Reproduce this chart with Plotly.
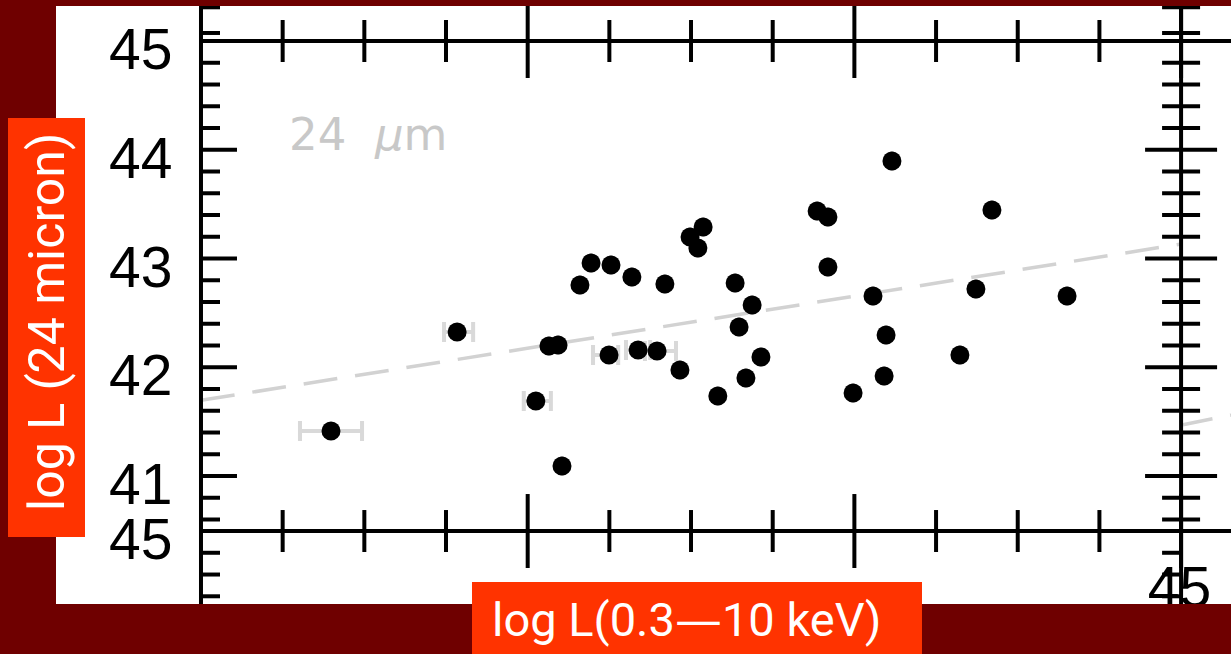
import plotly.graph_objects as go

# ---------------- data ----------------
lx = [41.398, 41.784, 42.025, 42.105, 42.065, 42.093, 42.249, 42.338, 42.396, 42.466,
      42.160, 42.194, 42.255, 42.319, 42.420, 42.497, 42.521, 42.537, 42.582, 42.635,
      42.647, 42.668, 42.687, 42.714, 42.886, 42.919, 42.919, 42.996, 43.057, 43.091,
      43.097, 43.115, 43.323, 43.372, 43.421, 43.651]
ly = [41.414, 42.324, 41.690, 41.092, 42.195, 42.205, 42.113, 42.159, 42.149, 41.975,
      42.756, 42.959, 42.940, 42.830, 42.766, 43.198, 43.097, 43.290, 41.736, 42.775,
      42.370, 41.901, 42.572, 42.094, 43.437, 43.382, 42.922, 41.763, 42.655, 41.920,
      42.297, 43.897, 42.113, 42.720, 43.446, 42.655]
err_plus = [0.095, 0.049, 0.046, 0, 0, 0, 0.028, 0.037, 0.058, 0,
            0, 0, 0, 0, 0, 0, 0, 0, 0, 0,
            0, 0, 0, 0, 0, 0, 0, 0, 0, 0,
            0, 0, 0, 0, 0, 0]
err_minus = [0.095, 0.040, 0.037, 0, 0, 0, 0.049, 0.037, 0.037, 0,
             0, 0, 0, 0, 0, 0, 0, 0, 0, 0,
             0, 0, 0, 0, 0, 0, 0, 0, 0, 0,
             0, 0, 0, 0, 0, 0]

fit_x = [41.0, 44.0]
fit_y = [41.696, 43.133]
side_fit_x = [44.006, 44.153]
side_fit_y = [41.472, 41.56]

y_major = [41, 42, 43, 44, 45]
y_major_text = ["41", "42", "43", "44", "45"]
y_minor = [40.6, 40.8, 41.2, 41.4, 41.6, 41.8, 42.2, 42.4, 42.6, 42.8,
           43.2, 43.4, 43.6, 43.8, 44.2, 44.4, 44.6, 44.8, 45.074, 45.31]
lower_axis_y = 40.494
lower_axis_text = "45"
lower_minor = [40.294, 40.094, 39.894]
x_major = [42, 43, 44]
x_minor = [41.25, 41.5, 41.75, 42.25, 42.5, 42.75, 43.25, 43.5, 43.75]
x_left, x_right = 41.0, 44.0
side_label = "45"

X_RANGE = [40.5562, 44.1528]
Y_RANGE = [39.823, 45.322]

DARK = "#6f0000"
ORANGE = "#ff3300"
LW = 4

fig = go.Figure()

# fit line (dashed, light grey)
fig.add_trace(go.Scatter(x=fit_x, y=fit_y, mode="lines", hoverinfo="skip",
                         line=dict(color="#d2d2d2", width=3.5, dash="34px,18px"),
                         showlegend=False))
fig.add_trace(go.Scatter(x=side_fit_x, y=side_fit_y, mode="lines", hoverinfo="skip",
                         line=dict(color="#d2d2d2", width=3.5, dash="30px,18px"),
                         showlegend=False))

# data points with x error bars
fig.add_trace(go.Scatter(
    x=lx, y=ly, mode="markers", showlegend=False,
    marker=dict(color="black", size=19, line=dict(width=0)),
    error_x=dict(type="data", symmetric=False, array=err_plus, arrayminus=err_minus,
                 color="#d9d9d9", thickness=4, width=10)))

# partially hidden label of neighbouring panel
fig.add_trace(go.Scatter(x=[43.995], y=[39.924], mode="text", text=[side_label],
                         textposition="middle center", cliponaxis=True,
                         textfont=dict(family="Liberation Sans", size=57, color="black"),
                         showlegend=False, hoverinfo="skip"))

shapes = []
def vline(x, y0, y1):
    shapes.append(dict(type="line", xref="x", yref="y", x0=x, x1=x, y0=y0, y1=y1,
                       line=dict(color="black", width=LW)))
def hline(y, x0, x1):
    shapes.append(dict(type="line", xref="x", yref="y", x0=x0, x1=x1, y0=y, y1=y,
                       line=dict(color="black", width=LW)))
def xtick(x, yanchor, half):
    shapes.append(dict(type="line", xref="x", yref="y", x0=x, x1=x,
                       ysizemode="pixel", yanchor=yanchor, y0=-half, y1=half,
                       line=dict(color="black", width=LW)))
def ytick(y, xanchor, p0, p1):
    shapes.append(dict(type="line", xref="x", yref="y", y0=y, y1=y,
                       xsizemode="pixel", xanchor=xanchor, x0=p0, x1=p1,
                       line=dict(color="black", width=LW)))

# frame lines
vline(x_left, Y_RANGE[0], Y_RANGE[1])
vline(x_right, Y_RANGE[0], Y_RANGE[1])
hline(45, x_left, X_RANGE[1])
hline(lower_axis_y, x_left, X_RANGE[1])

# x ticks on both horizontal lines
for yy in (45, lower_axis_y):
    for v in x_major:
        xtick(v, yy, 37)
    for v in x_minor:
        xtick(v, yy, 21)

# y ticks on left (inward) and right (both sides)
for v in y_major:
    ytick(v, x_left, 0, 36)
    ytick(v, x_right, -36, 36)
for v in y_minor:
    ytick(v, x_left, 0, 19)
    ytick(v, x_right, -19, 19)
for v in lower_minor:
    ytick(v, x_left, 0, 19)
    ytick(v, x_right, -19, 0)

# title boxes
shapes.append(dict(type="rect", xref="paper", yref="paper",
                   x0=-0.04085, x1=0.02468, y0=0.11204, y1=0.81271,
                   fillcolor=ORANGE, line=dict(width=0), layer="above"))
shapes.append(dict(type="rect", xref="paper", yref="paper",
                   x0=0.35404, x1=0.73702, y0=-0.0837, y1=0.03679,
                   fillcolor=ORANGE, line=dict(width=0), layer="above"))

annotations = []
# y tick labels, placed on the y scale left of the axis line
for v, t in zip(y_major + [lower_axis_y], y_major_text + [lower_axis_text]):
    annotations.append(dict(text=t, xref="paper", yref="y", x=(174 - 56) / 1175, y=v,
                            xanchor="right", yanchor="middle", yshift=-8,
                            showarrow=False,
                            font=dict(family="Liberation Sans", size=57, color="black")))

annotations += [
    dict(text="log L (24 micron)", xref="paper", yref="paper", x=-0.0077, y=0.4715,
         textangle=-90, showarrow=False, xanchor="center", yanchor="middle",
         font=dict(family="Roboto", size=50, color="white")),
    dict(text="log L(0.3<span style=\"font-family:'DejaVu Sans'\">\u2014</span>10 keV)",
         xref="paper", yref="paper", x=0.537, y=-0.026,
         showarrow=False, xanchor="center", yanchor="middle",
         font=dict(family="Roboto", size=47, color="white")),
    dict(text="24\u00a0\u00a0<i>\u03bc</i>m", xref="x", yref="y", x=41.263, y=44.145,
         showarrow=False, xanchor="left", yanchor="middle",
         font=dict(family="DejaVu Sans", size=45, color="#c8c8c8")),
]

fig.update_layout(
    width=1231, height=654,
    margin=dict(l=56, r=0, t=6, b=50, pad=0),
    paper_bgcolor=DARK, plot_bgcolor="white",
    showlegend=False,
    shapes=shapes, annotations=annotations,
    xaxis=dict(range=X_RANGE, showgrid=False, zeroline=False, showline=False,
               showticklabels=False, ticks=""),
    yaxis=dict(range=Y_RANGE, showgrid=False, zeroline=False, showline=False,
               showticklabels=False, ticks=""),
)

fig.write_html("out.html",
               config={"displayModeBar": False},
               post_script="document.body.style.margin='0';"
                           "document.body.style.overflow='hidden';"
                           "document.body.style.background='" + DARK + "';")
